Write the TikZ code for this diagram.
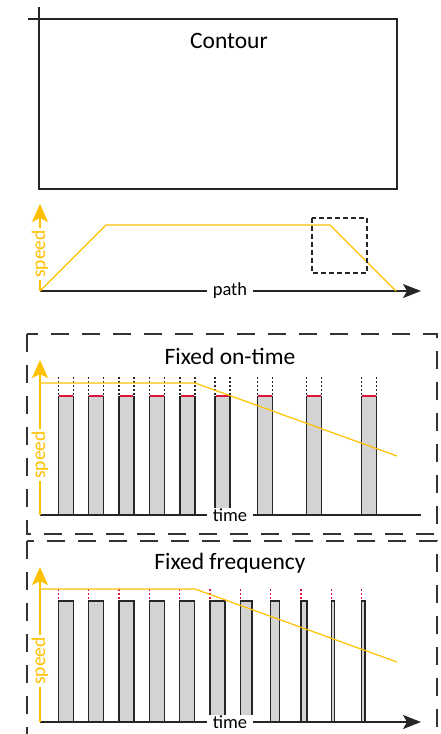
\documentclass[tikz,border=0pt]{standalone}
\usepackage{fontspec}
\setmainfont{Carlito}
\usetikzlibrary{arrows.meta}
\definecolor{speedcol}{RGB}{255,192,0}
\definecolor{pulsered}{RGB}{220,20,60}
\definecolor{barcol}{RGB}{211,211,211}

\begin{document}
\begin{tikzpicture}[x=1pt,y=-1pt,line width=1.3pt,
	outline/.style={draw=black!85},
	speedaxis/.style={draw=speedcol,-{Stealth[length=18pt,width=16pt,inset=4pt]}},
	timeaxis/.style={draw=black!85,-{Stealth[length=18pt,width=14pt,inset=4pt]}},
	speedline/.style={draw=speedcol,line width=1.2pt},
	panel/.style={draw=black!80,line width=1.2pt,dash pattern=on 18pt off 13pt},
	zoombox/.style={draw=black!85,line width=1.2pt,dash pattern=on 5pt off 3pt},
	tick/.style={line width=1.3pt,dash pattern=on 2pt off 2pt},
	axislabel/.style={fill=white,inner xsep=6pt,inner ysep=1pt,font=\fontsize{18.5}{20}\selectfont},
	speedlabel/.style={fill=white,text=speedcol,rotate=90,inner xsep=2pt,inner ysep=1pt,font=\fontsize{19.5}{21}\selectfont},
	title/.style={font=\fontsize{23.5}{26}\selectfont}]
	\useasboundingbox (0,0) rectangle (440,734);
	\clip (0,0) rectangle (440,734);

	\draw[outline] (39,19) rectangle (397,189);
	\draw[outline] (28,19) -- (39,19) (39,7) -- (39,19);
	\node[title] (contour) at (229,41) {Contour};

	\coordinate (o1) at (40,291);
	\coordinate (s1) at (40,204);
	\coordinate (p1) at (421,291);
	\draw[timeaxis] (o1) -- (p1);
	\draw[speedaxis] (o1) -- (s1);
	\draw[speedline] (o1) -- (106,225) -- (330,225) -- (396,291);
	\draw[zoombox] (312,218) rectangle (367,273);
	\node[axislabel] (path) at (230,291) {path};
	\node[speedlabel] (speed1) at (40,254) {speed};

	\draw[panel] (27,334) rectangle (437,534);
	\node[title] (ontime) at (230,356) {Fixed on-time};
	\foreach \x in {58.3,88.3,119,149.3,180,215,257.7,306.7,361.7} {
		\fill[barcol] (\x,396) rectangle ++(15,119);
		\draw[outline] (\x,396) -- (\x,515) (\x+15,396) -- (\x+15,515);
		\draw[pulsered,line width=1.2pt] (\x+0.6,396) -- ++(13.8,0);
		\draw[tick,black!85] (\x,377) -- (\x,395) (\x+15,377) -- (\x+15,395);
	}
	\coordinate (o2) at (40,515);
	\coordinate (s2) at (40,360);
	\coordinate (t2) at (421,515);
	\draw[outline] (o2) -- (t2);
	\draw[speedaxis] (o2) -- (s2);
	\draw[speedline] (40,383) -- (195,383) -- (397,456);
	\node[axislabel] (time2) at (230,515) {time};
	\node[speedlabel] (speed2) at (40,455) {speed};

	\draw[panel] (27,541) rectangle (437,770);
	\node[title] (fixfreq) at (230,563) {Fixed frequency};
	\foreach \i/\w in {0/15,1/15,2/15,3/15,4/15,5/15,6/11.7,7/9,8/6,9/3.5,10/3.5} {
		\pgfmathsetmacro{\x}{58.3+30.33*\i}
		\draw[outline,fill=barcol] (\x,601) rectangle ++(\w,121);
		\draw[tick,pulsered] (\x,589) -- (\x,600);
	}
	\coordinate (o3) at (40,722);
	\coordinate (s3) at (40,567);
	\coordinate (t3) at (421,722);
	\draw[timeaxis] (o3) -- (t3);
	\draw[speedaxis] (o3) -- (s3);
	\draw[speedline] (40,589) -- (195,589) -- (397,662);
	\node[axislabel] (time3) at (230,722) {time};
	\node[speedlabel] (speed3) at (40,661) {speed};
\end{tikzpicture}
\end{document}
